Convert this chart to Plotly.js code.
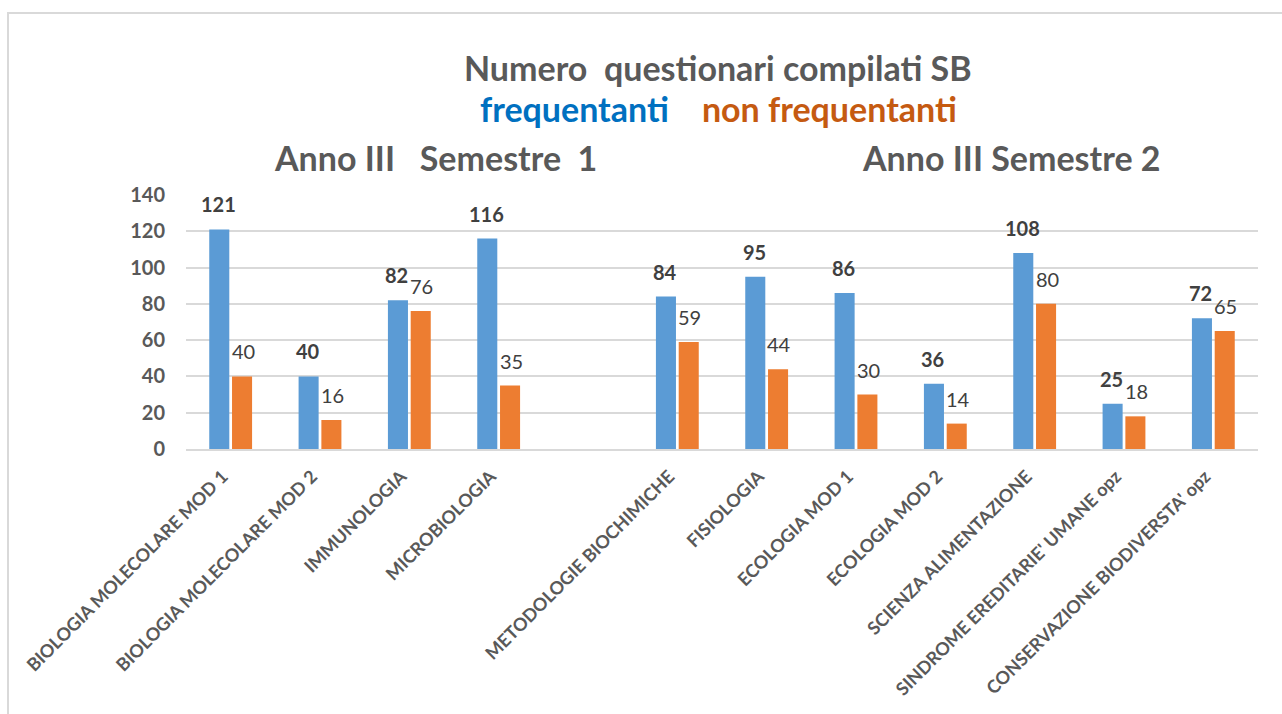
<!DOCTYPE html>
<html>
<head>
<meta charset="utf-8">
<script src="https://cdn.plot.ly/plotly-3.0.1.min.js"></script>
<style>
  html, body { margin:0; padding:0; background:#fff; overflow:hidden; }
  #chart { width:1282px; height:714px; }
  #frame { position:absolute; left:7px; top:12px; width:1400px; height:800px;
           border-left:2px solid #D9D9D9; border-top:2px solid #D9D9D9; pointer-events:none; }
</style>
</head>
<body>
<div id="chart"></div>
<div id="frame"></div>
<script>
// ---- data ----
const categories = [
  "BIOLOGIA MOLECOLARE MOD 1",
  "BIOLOGIA MOLECOLARE MOD 2",
  "IMMUNOLOGIA",
  "MICROBIOLOGIA",
  " ",
  "METODOLOGIE BIOCHIMICHE",
  "FISIOLOGIA",
  "ECOLOGIA MOD 1",
  "ECOLOGIA MOD 2",
  "SCIENZA ALIMENTAZIONE",
  "SINDROME EREDITARIE' UMANE opz",
  "CONSERVAZIONE BIODIVERSTA' opz"
];
const frequentanti    = [121, 40, 82, 116, null, 84, 95, 86, 36, 108, 25, 72];
const nonFrequentanti = [40, 16, 76, 35, null, 59, 44, 30, 14, 80, 18, 65];
const yTicks = [0, 20, 40, 60, 80, 100, 120, 140];

const titleText = "Numero\u00A0\u00A0questionari compilati SB";
const legendFreq = "frequentanti";
const legendNon = "non frequentanti";
const sem1 = "Anno III\u00A0\u00A0\u00A0Semestre\u00A0\u00A01";
const sem2 = "Anno III Semestre 2";

// ---- layout geometry (pixels) ----
const W = 1282, H = 714;
const M = {l:186, r:24, t:195, b:265};
const plotW = W - M.l - M.r, plotH = H - M.t - M.b;
const px = x => (x - M.l) / plotW;
const py = y => (H - M.b - y) / plotH;

const FONT = "Lato, 'Open Sans', sans-serif";
const BLUE = "#5B9BD5", ORANGE = "#ED7D31";
const TITLE_SIZE = 34;

const traces = [
  { type:"bar", name:legendFreq, x:categories, y:frequentanti,
    marker:{color:BLUE}, hoverinfo:"x+y" },
  { type:"bar", name:legendNon, x:categories, y:nonFrequentanti,
    marker:{color:ORANGE}, hoverinfo:"x+y" }
];

const annotations = [];
// data labels
categories.forEach((c, i) => {
  if (frequentanti[i] != null) annotations.push({
    x:c, y:frequentanti[i], xref:"x", yref:"y", text:String(frequentanti[i]),
    showarrow:false, xshift:-12.5, yshift:11, yanchor:"bottom", xanchor:"center",
    font:{family:FONT, size:20, color:"#404040", weight:"bold"}
  });
  if (nonFrequentanti[i] != null) annotations.push({
    x:c, y:nonFrequentanti[i], xref:"x", yref:"y", text:String(nonFrequentanti[i]),
    showarrow:false, xshift:12.5, yshift:11, yanchor:"bottom", xanchor:"center",
    font:{family:FONT, size:20, color:"#404040"}
  });
});
// titles
annotations.push({ x:px(718), y:py(67), xref:"paper", yref:"paper", text:titleText,
  showarrow:false, xanchor:"center", yanchor:"middle",
  font:{family:FONT, size:TITLE_SIZE, color:"#595959", weight:"bold"} });
annotations.push({ x:px(718), y:py(109), xref:"paper", yref:"paper",
  text:'<span style="color:#0070C0">' + legendFreq + '</span>\u00A0\u00A0\u00A0\u00A0<span style="color:#C55A11">' + legendNon + '</span>',
  showarrow:false, xanchor:"center", yanchor:"middle",
  font:{family:FONT, size:TITLE_SIZE, color:"#595959", weight:"bold"} });
annotations.push({ x:px(435), y:py(157), xref:"paper", yref:"paper", text:sem1,
  showarrow:false, xanchor:"center", yanchor:"middle",
  font:{family:FONT, size:TITLE_SIZE, color:"#595959", weight:"bold"} });
annotations.push({ x:px(1011), y:py(157), xref:"paper", yref:"paper", text:sem2,
  showarrow:false, xanchor:"center", yanchor:"middle",
  font:{family:FONT, size:TITLE_SIZE, color:"#595959", weight:"bold"} });

const layout = {
  width:W, height:H,
  margin:M,
  paper_bgcolor:"#ffffff", plot_bgcolor:"#ffffff",
  showlegend:false,
  barmode:"group", bargap:0.49, bargroupgap:0.12,
  xaxis:{ type:"category", categoryorder:"array", categoryarray:categories,
    tickangle:-45, showgrid:false, zeroline:false, showline:true, linecolor:"#D9D9D9", linewidth:2,
    ticks:"", ticklabelstandoff:8, ticklabelshift:-8,
    tickfont:{family:FONT, size:18, color:"#595959", weight:"bold"}, automargin:false },
  yaxis:{ range:[0,140], tickvals:yTicks, ticktext:yTicks.map(String),
    showgrid:true, gridcolor:"#D9D9D9", gridwidth:2, zeroline:false, showline:false,
    ticks:"", ticklabelstandoff:20,
    tickfont:{family:FONT, size:20, color:"#595959", weight:"bold"}, automargin:false },
  annotations:annotations,
  font:{family:FONT}
};

Plotly.newPlot("chart", traces, layout, {displayModeBar:false, staticPlot:true});
</script>
</body>
</html>
